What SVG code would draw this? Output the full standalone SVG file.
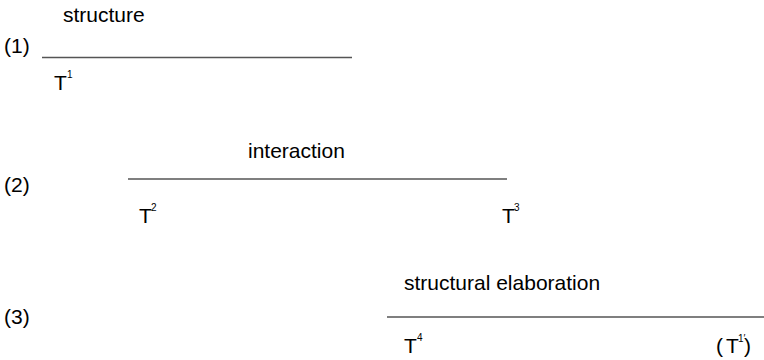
<svg xmlns="http://www.w3.org/2000/svg" width="764" height="360" viewBox="0 0 764 360">
<style>
text{font-family:"Liberation Sans",Arial,sans-serif;fill:#000}
.l{font-size:21px}
.s{font-size:10px}
.ln{stroke:#555;stroke-width:1.5}
</style>
<rect width="764" height="360" fill="#fff"/>
<g id="row1">
<text class="l" x="63" y="22">structure</text>
<text class="l" x="4" y="53">(1)</text>
<text class="l" x="54" y="90">T</text><text class="s" x="67" y="78">1</text>
</g>
<g id="row2">
<text class="l" x="248" y="158">interaction</text>
<text class="l" x="4" y="192">(2)</text>
<text class="l" x="139" y="223">T</text><text class="s" x="151" y="211">2</text>
<text class="l" x="502" y="223">T</text><text class="s" x="514" y="211">3</text>
</g>
<g id="row3">
<text class="l" x="404" y="290">structural elaboration</text>
<text class="l" x="4" y="324">(3)</text>
<text class="l" x="404" y="353">T</text><text class="s" x="417" y="341">4</text>
<text class="l" x="716" y="353">(</text><text class="l" x="726" y="353">T</text><text class="s" x="738" y="342">1′</text><text class="l" x="744" y="353">)</text>
</g>
<g id="connectors">
<line class="ln" x1="42" y1="57.5" x2="352" y2="57.5"/>
<line class="ln" x1="128" y1="179" x2="507" y2="179"/>
<line class="ln" x1="387" y1="317" x2="764" y2="317"/>
</g>
</svg>
